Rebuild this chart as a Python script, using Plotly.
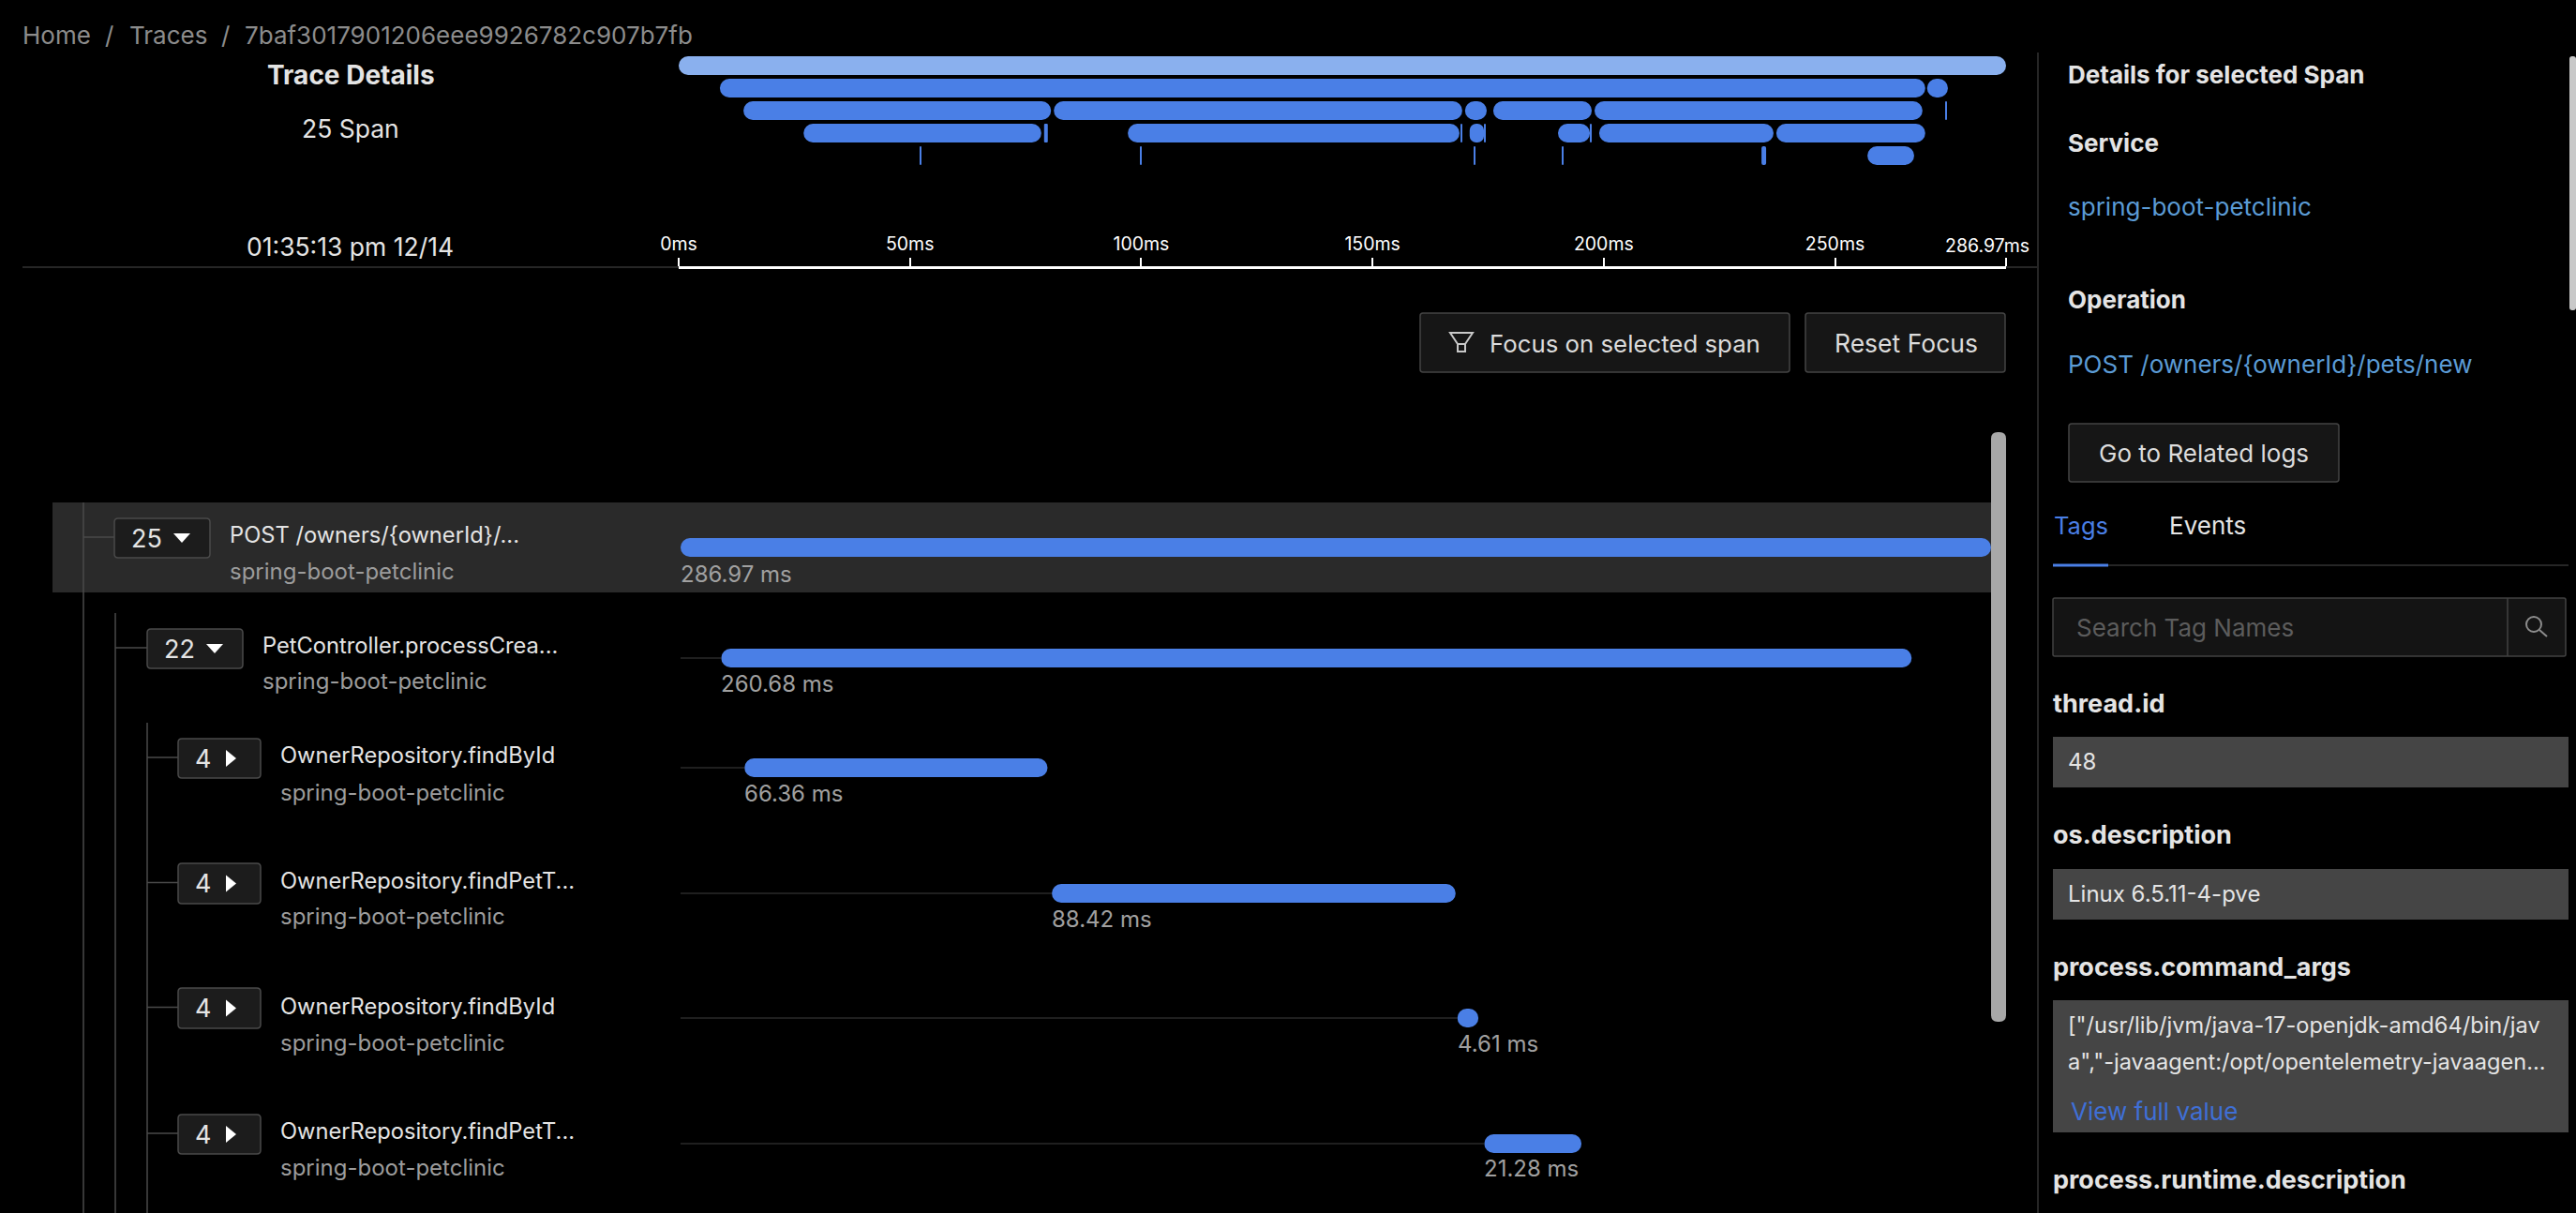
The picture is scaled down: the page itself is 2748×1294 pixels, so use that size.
import plotly.graph_objects as go

W, H = 2748, 1294
FONT = "Inter"
BLUE = "#4a7fe6"
LIGHT = "#8ab0ee"
END = 286.97

# overview rows: (start ms, end ms)
overview = [
    [(0, 286.97)],
    [(8.9, 269.5), (269.9, 274.4)],
    [(14.0, 80.5), (81.1, 169.4), (170.0, 174.7), (176.1, 197.4), (198.0, 268.9), (273.95, 274.15)],
    [(27.0, 78.4), (79.0, 79.8), (97.1, 168.8), (169.1, 169.3), (171.0, 174.1), (174.2, 174.4),
     (190.1, 197.0), (197.1, 197.4), (199.0, 236.7), (237.3, 269.5)],
    [(52.25, 52.45), (99.8, 100.0), (172.0, 172.2), (191.0, 191.2), (234.1, 235.1), (257.0, 267.1)],
]

# waterfall rows
spans = [
    {"count": "25", "open": True, "name": "POST /owners/{ownerId}/...", "start": 0, "dur": 286.97,
     "y": 584, "box": (122, 553, 224, 595), "trunk": 89, "name_x": 245, "name_y": 570, "svc_y": 609, "lab_y": 612},
    {"count": "22", "open": True, "name": "PetController.processCrea...", "start": 8.9, "dur": 260.68,
     "y": 702, "box": (157, 671, 259, 713), "trunk": 123, "name_x": 280, "name_y": 688, "svc_y": 726, "lab_y": 729},
    {"count": "4", "open": False, "name": "OwnerRepository.findById", "start": 14.0, "dur": 66.36,
     "y": 819, "box": (190, 788, 278, 830), "trunk": 157, "name_x": 299, "name_y": 805, "svc_y": 845, "lab_y": 846},
    {"count": "4", "open": False, "name": "OwnerRepository.findPetT...", "start": 81.3, "dur": 88.42,
     "y": 953, "box": (190, 921, 278, 964), "trunk": 157, "name_x": 299, "name_y": 939, "svc_y": 977, "lab_y": 980},
    {"count": "4", "open": False, "name": "OwnerRepository.findById", "start": 170.1, "dur": 4.61,
     "y": 1086, "box": (190, 1054, 278, 1097), "trunk": 157, "name_x": 299, "name_y": 1073, "svc_y": 1112, "lab_y": 1113},
    {"count": "4", "open": False, "name": "OwnerRepository.findPetT...", "start": 176.0, "dur": 21.28,
     "y": 1220, "box": (190, 1189, 278, 1231), "trunk": 157, "name_x": 299, "name_y": 1206, "svc_y": 1245, "lab_y": 1246},
]

fig = go.Figure()
shapes = []
notes = []


def rrect(x0, y0, x1, y1, r, fill, line=None, width=1.5):
    path = (f"M{x0+r},{y0} L{x1-r},{y0} Q{x1},{y0} {x1},{y0+r} L{x1},{y1-r} Q{x1},{y1} {x1-r},{y1} "
            f"L{x0+r},{y1} Q{x0},{y1} {x0},{y1-r} L{x0},{y0+r} Q{x0},{y0} {x0+r},{y0} Z")
    shapes.append(dict(type="path", path=path, xref="x", yref="y", fillcolor=fill, layer="below",
                       line=dict(color=line or fill, width=width if line else 0)))


def rect(x0, y0, x1, y1, fill):
    shapes.append(dict(type="rect", x0=x0, y0=y0, x1=x1, y1=y1, xref="x", yref="y", fillcolor=fill,
                       layer="below", line=dict(width=0)))


def seg(x0, y0, x1, y1, color, width=1.5):
    shapes.append(dict(type="line", x0=x0, y0=y0, x1=x1, y1=y1, xref="x", yref="y", layer="below",
                       line=dict(color=color, width=width)))


def poly(points, fill):
    path = "M" + " L".join(f"{x},{y}" for x, y in points) + " Z"
    shapes.append(dict(type="path", path=path, xref="x", yref="y", fillcolor=fill, layer="below", line=dict(width=0)))


def text(x, y, s, size=24, color="#e4e4e4", anchor="left", weight=400):
    # annotations carry a little padding, pull left-aligned text back onto its x
    if anchor == "left":
        x -= 2
    notes.append(dict(x=x, y=y, xref="x", yref="y", text=s, showarrow=False, xanchor=anchor, yanchor="middle",
                      font=dict(family=FONT, size=size, color=color, weight=weight)))


# canvas axis pair in screen pixels, first so its shapes stay under the bars
fig.add_trace(go.Scatter(x=[0, W], y=[0, H], mode="markers", marker=dict(opacity=0), hoverinfo="skip", xaxis="x", yaxis="y"))

# overview bars
for i, row in enumerate(overview):
    for s, e in row:
        fig.add_trace(go.Bar(x=[e - s], y=[i], base=[s], orientation="h", width=20 / 24,
                             marker=dict(color=LIGHT if i == 0 else BLUE, line=dict(width=0), cornerradius=10),
                             xaxis="x2", yaxis="y2", hoverinfo="skip"))

# waterfall lead lines and bars
for sp in spans:
    if sp["start"] > 0:
        fig.add_trace(go.Scatter(x=[0, sp["start"]], y=[sp["y"], sp["y"]], mode="lines",
                                 line=dict(color="#2a2a2a", width=1.5), xaxis="x3", yaxis="y", hoverinfo="skip"))
    fig.add_trace(go.Bar(x=[sp["dur"]], y=[sp["y"]], base=[sp["start"]], orientation="h", width=20,
                         marker=dict(color=BLUE, line=dict(width=0), cornerradius=10),
                         xaxis="x3", yaxis="y", hoverinfo="skip"))
    notes.append(dict(x=sp["start"], xshift=-2, y=sp["lab_y"], xref="x3", yref="y", text=f'{sp["dur"]:.2f} ms', showarrow=False,
                      xanchor="left", yanchor="middle", font=dict(family=FONT, size=24, color="#a0a0a0")))

# header
text(24, 37, "Home", size=26, color="#8c8c8c")
text(116, 37, "/", size=26, color="#8c8c8c", anchor="center")
text(138, 37, "Traces", size=26, color="#8c8c8c")
text(240, 37, "/", size=26, color="#8c8c8c", anchor="center")
text(261, 37, "7baf3017901206eee9926782c907b7fb", size=26, color="#8c8c8c")
text(374, 80, "Trace Details", size=28, anchor="center", weight=700)
text(374, 137, "25 Span", size=26.5, anchor="center")
text(373, 263, "01:35:13 pm 12/14", size=26.5, anchor="center")
text(2120, 262, "286.97ms", size=19.5, color="#ffffff", anchor="center")
seg(24, 285, 724, 285, "#262626", 2)
seg(2140, 285, 2173, 285, "#262626", 2)
seg(2174, 56, 2174, H, "#262626", 2)

# focus buttons
rrect(1515, 334, 1909, 397, 3, "#161616", "#444444")
rrect(1926, 334, 2139, 397, 3, "#161616", "#444444")
shapes.append(dict(type="path", path="M1547,355 L1571,355 L1563,367 L1563,375 L1555,375 L1555,367 Z M1555,367 L1563,367",
                   xref="x", yref="y", layer="below", line=dict(color="#c8c8c8", width=2)))
text(1589, 366, "Focus on selected span", size=25.8, color="#dcdcdc")
text(2033, 366, "Reset Focus", size=26.5, color="#dcdcdc", anchor="center")

# scrollbars
rrect(2124, 461, 2140, 1090, 7, "#a8a8a8")
rrect(2741, 60, 2748, 331, 3, "#c8c8c8")

# tree
rect(56, 536, 2124, 632, "#2a2a2a")
seg(89, 536, 89, H, "#4a4a4a")
seg(123, 654, 123, H, "#4a4a4a")
seg(157, 771, 157, H, "#4a4a4a")
for sp in spans:
    x0, y0, x1, y1 = sp["box"]
    cy = (y0 + y1) / 2
    seg(sp["trunk"], cy - 1, x0, cy - 1, "#4a4a4a")
    rrect(x0, y0, x1, y1, 4, "#1c1c1c", "#4a4a4a")
    if sp["open"]:
        text(x0 + 34, cy, sp["count"], size=27, anchor="center")
        tx = x1 - 30
        poly([(tx - 9, cy - 5), (tx + 9, cy - 5), (tx, cy + 5)], "#ffffff")
    else:
        text(x0 + 26, cy, sp["count"], size=27, anchor="center")
        tx = x0 + 56
        poly([(tx - 5, cy - 9), (tx - 5, cy + 9), (tx + 6, cy)], "#ffffff")
    text(sp["name_x"], sp["name_y"], sp["name"], size=23.7)
    text(sp["name_x"], sp["svc_y"], "spring-boot-petclinic", size=24, color="#9c9c9c")

# right panel
text(2206, 79, "Details for selected Span", size=26, weight=700)
text(2206, 152, "Service", size=26, weight=700)
text(2206, 220, "spring-boot-petclinic", size=26, color="#5b9bd5")
text(2206, 319, "Operation", size=26, weight=700)
text(2206, 388, "POST /owners/{ownerId}/pets/new", size=26, color="#5b9bd5")
rrect(2207, 452, 2495, 514, 3, "#161616", "#444444")
text(2351, 483, "Go to Related logs", size=26, color="#dcdcdc", anchor="center")
text(2191, 560, "Tags", size=25.5, color="#4a7fe6")
text(2314, 560, "Events", size=26)
seg(2190, 603, 2740, 603, "#333333")
seg(2190, 603, 2249, 603, "#4a7fe6", 3)
rrect(2190, 638, 2737, 700, 2, "#141414", "#424242")
seg(2675, 638, 2675, 700, "#424242")
shapes.append(dict(type="circle", x0=2695, y0=658, x1=2711, y1=674, xref="x", yref="y", layer="below",
                   line=dict(color="#8c8c8c", width=2)))
seg(2709, 672, 2717, 679, "#8c8c8c", 2)
text(2215, 669, "Search Tag Names", size=26, color="#5c5c5c")

text(2190, 750, "thread.id", size=27, weight=700)
rect(2190, 786, 2740, 840, "#454545")
text(2206, 812, "48", size=24)
text(2190, 890, "os.description", size=27, weight=700)
rect(2190, 927, 2740, 981, "#454545")
text(2206, 953, "Linux 6.5.11-4-pve", size=24)
text(2190, 1031, "process.command_args", size=27, weight=700)
rect(2190, 1067, 2740, 1208, "#454545")
text(2206, 1093, '["/usr/lib/jvm/java-17-openjdk-amd64/bin/jav', size=23.6)
text(2206, 1132, 'a","-javaagent:/opt/opentelemetry-javaagen...', size=23.6)
text(2209, 1185, "View full value", size=26, color="#3f6fd6")
text(2190, 1258, "process.runtime.description", size=27, weight=700)

fig.update_layout(
    width=W, height=H, autosize=False, margin=dict(l=0, r=0, t=0, b=0, pad=0),
    paper_bgcolor="#000000", plot_bgcolor="rgba(0,0,0,0)", showlegend=False, barmode="overlay",
    shapes=shapes, annotations=notes,
    xaxis=dict(domain=[0, 1], range=[0, W], visible=False, fixedrange=True, automargin=False),
    yaxis=dict(domain=[0, 1], range=[H, 0], visible=False, fixedrange=True, automargin=False),
    xaxis2=dict(domain=[724 / W, 2140 / W], range=[0, END], anchor="free", position=1 - 285 / H, side="top",
                showgrid=False, zeroline=False, showline=True, linecolor="#ffffff", linewidth=3,
                ticks="outside", ticklen=9, tickwidth=1.5, tickcolor="#ffffff", automargin=False,
                tickvals=[0, 50, 100, 150, 200, 250, END], ticktext=["0ms", "50ms", "100ms", "150ms", "200ms", "250ms", ""],
                tickfont=dict(family=FONT, size=19.5, color="#ffffff"), fixedrange=True),
    yaxis2=dict(domain=[1 - 178 / H, 1 - 58 / H], range=[4.5, -0.5], visible=False, fixedrange=True, anchor="x2", automargin=False),
    xaxis3=dict(domain=[726 / W, 2124 / W], range=[0, END], anchor="y", visible=False, fixedrange=True, automargin=False),
)

fig.write_html("out.html", config={"displayModeBar": False},
               post_script="document.body.style.margin='0';document.body.style.background='#000';")
